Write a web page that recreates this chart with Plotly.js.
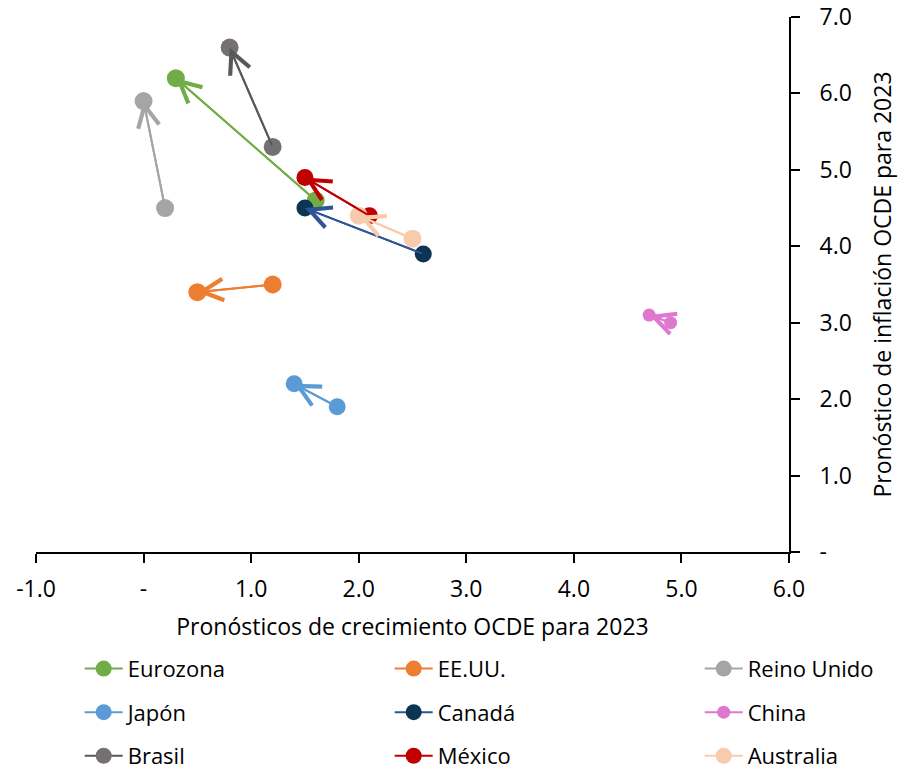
<!DOCTYPE html>
<html>
<head>
<meta charset="utf-8">
<script src="https://cdn.plot.ly/plotly-3.0.1.min.js"></script>
<style>
html,body{margin:0;padding:0;background:#fff;}
#chart{width:898px;height:772px;}
</style>
</head>
<body>
<div id="chart"></div>
<script>
// ---- data ----
const series = ['Eurozona', 'EE.UU.', 'Reino Unido', 'Japón', 'Canadá', 'China', 'Brasil', 'México', 'Australia'];
const growthBefore = [1.6, 1.2, 0.2, 1.8, 2.6, 4.9, 1.2, 2.1, 2.5];
const growthAfter  = [0.3, 0.5, 0.0, 1.4, 1.5, 4.7, 0.8, 1.5, 2.0];
const inflBefore   = [4.6, 3.5, 4.5, 1.9, 3.9, 3.0, 5.3, 4.4, 4.1];
const inflAfter    = [6.2, 3.4, 5.9, 2.2, 4.5, 3.1, 6.6, 4.9, 4.4];

const xTickVals = [-1, 0, 1, 2, 3, 4, 5, 6];
const xTickText = ['-1.0', '-', '1.0', '2.0', '3.0', '4.0', '5.0', '6.0'];
const yTickVals = [0, 1, 2, 3, 4, 5, 6, 7];
const yTickText = ['-', '1.0', '2.0', '3.0', '4.0', '5.0', '6.0', '7.0'];

// ---- styles ----
const lineColors   = ['#70AD47', '#ED7D31', '#A5A5A5', '#5B9BD5', '#2F5597', '#DD77D0', '#595959', '#C00000', '#F8CBAD'];
const markerColors = ['#70AD47', '#ED7D31', '#A5A5A5', '#5B9BD5', '#0B3552', '#DD77D0', '#767171', '#C00000', '#F8CBAD'];
const markerSizes  = [18, 18, 18, 17, 17, 13, 18, 17, 18];
// legend columns (Excel fills rows left to right)
const legendCol    = ['legend', 'legend2', 'legend3', 'legend', 'legend2', 'legend3', 'legend', 'legend2', 'legend3'];

const FONT = 'Open Sans, sans-serif';

const traces = series.map((name, i) => ({
  type: 'scatter',
  mode: 'lines+markers',
  name: name,
  x: [growthBefore[i], growthAfter[i]],
  y: [inflBefore[i], inflAfter[i]],
  line: {color: lineColors[i], width: 2},
  marker: {color: markerColors[i], size: markerSizes[i], symbol: 'circle'},
  legend: legendCol[i],
  legendgroup: 'g' + i,
  hoverinfo: 'skip'
}));

const annotations = series.map((name, i) => ({
  x: growthAfter[i], y: inflAfter[i],
  ax: growthBefore[i], ay: inflBefore[i],
  xref: 'x', yref: 'y', axref: 'x', ayref: 'y',
  text: '', showarrow: true,
  arrowhead: 5, arrowsize: 2.1, arrowwidth: 2,
  arrowcolor: lineColors[i], standoff: 0, startstandoff: 0
}));

function legendCfg(xPaper) {
  return {
    orientation: 'v', x: xPaper, xanchor: 'left', y: -0.179, yanchor: 'top',
    itemwidth: 38, tracegroupgap: 12,
    font: {family: FONT, size: 22, color: '#000'},
    bgcolor: 'rgba(0,0,0,0)', borderwidth: 0
  };
}

const layout = {
  width: 898, height: 772,
  margin: {l: 36, r: 109, t: 17, b: 220, autoexpand: false},
  paper_bgcolor: '#fff', plot_bgcolor: '#fff',
  font: {family: FONT, size: 23, color: '#000'},
  showlegend: true,
  xaxis: {
    range: [-1, 6], tickvals: xTickVals, ticktext: xTickText,
    showgrid: false, zeroline: false,
    showline: true, linecolor: '#000', linewidth: 2,
    ticks: 'outside', ticklen: 9, tickwidth: 2, tickcolor: '#000',
    ticklabelstandoff: 6,
    tickfont: {family: FONT, size: 23, color: '#000'},
    title: {text: 'Pronósticos de crecimiento OCDE para 2023', font: {family: FONT, size: 23, color: '#000'}, standoff: 16},
    automargin: false, fixedrange: true
  },
  yaxis: {
    range: [0, 7], side: 'right', tickvals: yTickVals, ticktext: yTickText,
    showgrid: false, zeroline: false,
    showline: true, linecolor: '#000', linewidth: 2,
    ticks: 'outside', ticklen: 9, tickwidth: 2, tickcolor: '#000',
    ticklabelstandoff: 15,
    tickfont: {family: FONT, size: 23, color: '#000'},
    title: {text: 'Pronóstico de inflación OCDE para 2023', font: {family: FONT, size: 23, color: '#000'}, standoff: 26},
    automargin: false, fixedrange: true
  },
  legend: legendCfg(0.058),
  legend2: legendCfg(0.4697),
  legend3: legendCfg(0.8814),
  annotations: annotations
};

Plotly.newPlot('chart', traces, layout, {displayModeBar: false, staticPlot: true});
</script>
</body>
</html>
